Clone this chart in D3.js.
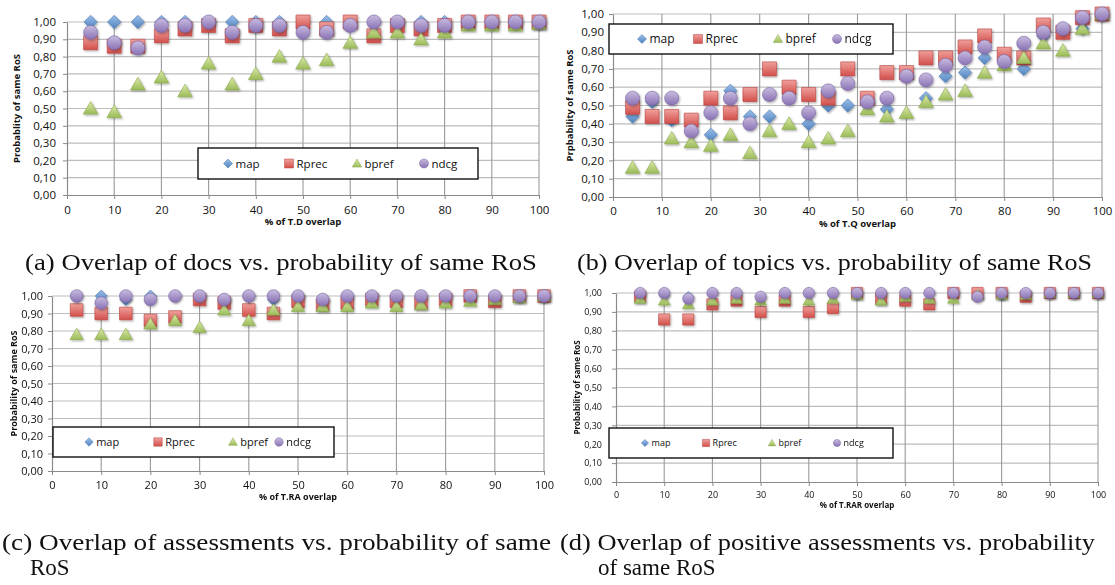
<!DOCTYPE html>
<html>
<head>
<meta charset="utf-8">
<script src="https://cdn.jsdelivr.net/npm/d3@7"></script>
<style>
  body { margin: 0; background: #fff; }
  svg text { font-family: "Open Sans", "Liberation Sans", sans-serif; }
</style>
</head>
<body>
<div id="chart"></div>
<script>
const seriesNames = ["map", "Rprec", "bpref", "ndcg"];
const xTickLabels = [0, 10, 20, 30, 40, 50, 60, 70, 80, 90, 100];
const yTickLabels = [0, 0.1, 0.2, 0.3, 0.4, 0.5, 0.6, 0.7, 0.8, 0.9, 1.0];

// (a) overlap of docs
const xA = [5, 10, 15, 20, 25, 30, 35, 40, 45, 50, 55, 60, 65, 70, 75, 80, 85, 90, 95, 100];
const mapA = [1, 1, 1, 1, 1, 1, 1, 1, 1, 1, 1, 1, 1, 1, 1, 1, 1, 1, 1, 1];
const rprecA = [0.88, 0.86, 0.86, 0.92, 0.96, 0.98, 0.92, 0.98, 0.96, 1.0, 0.96, 1.0, 0.92, 0.98, 0.96, 0.98, 1.0, 1.0, 1.0, 1.0];
const bprefA = [0.5, 0.48, 0.64, 0.68, 0.6, 0.76, 0.64, 0.7, 0.8, 0.76, 0.78, 0.88, 0.94, 0.94, 0.9, 0.94, 0.98, 0.98, 0.98, 0.99];
const ndcgA = [0.94, 0.88, 0.85, 0.98, 0.98, 1.0, 0.94, 0.98, 0.98, 0.94, 0.94, 0.98, 1.0, 1.0, 0.98, 0.98, 1.0, 1.0, 1.0, 1.0];

// (b) overlap of topics
const xB = [4, 8, 12, 16, 20, 24, 28, 32, 36, 40, 44, 48, 52, 56, 60, 64, 68, 72, 76, 80, 84, 88, 92, 96, 100];
const mapB = [0.44, 0.52, 0.42, 0.36, 0.34, 0.58, 0.44, 0.44, 0.56, 0.4, 0.5, 0.5, 0.52, 0.48, 0.66, 0.54, 0.66, 0.68, 0.76, 0.74, 0.7, 0.88, 0.9, 0.92, 1.0];
const rprecB = [0.49, 0.44, 0.44, 0.42, 0.54, 0.46, 0.56, 0.7, 0.6, 0.56, 0.54, 0.7, 0.54, 0.68, 0.68, 0.76, 0.76, 0.82, 0.88, 0.78, 0.76, 0.94, 0.9, 0.98, 1.0];
const bprefB = [0.16, 0.16, 0.32, 0.3, 0.28, 0.34, 0.24, 0.36, 0.4, 0.3, 0.32, 0.36, 0.48, 0.44, 0.46, 0.52, 0.56, 0.58, 0.68, 0.72, 0.76, 0.84, 0.8, 0.92, 1.0];
const ndcgB = [0.54, 0.54, 0.54, 0.36, 0.46, 0.54, 0.4, 0.56, 0.54, 0.46, 0.58, 0.62, 0.52, 0.54, 0.66, 0.64, 0.72, 0.76, 0.82, 0.74, 0.84, 0.9, 0.92, 0.98, 1.0];

// (c) overlap of assessments
const xC = [5, 10, 15, 20, 25, 30, 35, 40, 45, 50, 55, 60, 65, 70, 75, 80, 85, 90, 95, 100];
const mapC = [1, 1, 0.98, 1, 1, 1, 0.98, 1, 0.98, 1, 0.98, 1, 1, 1, 1, 1, 1, 1, 1, 1];
const rprecC = [0.92, 0.9, 0.9, 0.86, 0.88, 0.98, 0.96, 0.92, 0.9, 0.97, 0.95, 0.96, 0.98, 0.97, 0.96, 0.98, 1.0, 0.97, 1.0, 1.0];
const bprefC = [0.78, 0.78, 0.78, 0.84, 0.86, 0.82, 0.92, 0.86, 0.92, 0.94, 0.94, 0.94, 0.96, 0.94, 0.95, 0.96, 0.97, 0.98, 0.99, 1.0];
const ndcgC = [1, 0.96, 1, 0.98, 1, 1, 0.98, 1, 1, 1, 0.98, 1, 1, 1, 1, 1, 1, 1, 1, 1];

// (d) overlap of positive assessments
const xD = [5, 10, 15, 20, 25, 30, 35, 40, 45, 50, 55, 60, 65, 70, 75, 80, 85, 90, 95, 100];
const mapD = [0.99, 0.99, 0.98, 1, 1, 0.98, 1, 1, 1, 1, 1, 1, 1, 1, 1, 0.99, 1, 1, 1, 1];
const rprecD = [0.98, 0.86, 0.86, 0.94, 0.96, 0.9, 0.96, 0.9, 0.92, 1.0, 0.97, 0.96, 0.94, 1.0, 1.0, 1.0, 0.98, 1.0, 1.0, 1.0];
const bprefD = [0.97, 0.96, 0.94, 0.96, 0.97, 0.96, 0.97, 0.96, 0.97, 0.99, 0.96, 0.98, 0.97, 0.97, 0.99, 0.99, 0.99, 1.0, 1.0, 1.0];
const ndcgD = [1, 1, 0.97, 1, 1, 0.98, 1, 1, 1, 1, 1, 1, 1, 1, 0.98, 1, 1, 1, 1, 1];

const styles = {
  map: { shape: "diamond", top: "#9cc0ec", bottom: "#4f81bd", stroke: "#4a78b0" },
  Rprec: { shape: "square", top: "#f0a09c", bottom: "#d24f4b", stroke: "#b9433f" },
  bpref: { shape: "triangle", top: "#dcebaa", bottom: "#9bbb59", stroke: "#8aa94c" },
  ndcg: { shape: "circle", top: "#c8bce0", bottom: "#8a72b4", stroke: "#7a64a2" },
};

const panels = [
  {
    xs: xA, series: [mapA, rprecA, bprefA, ndcgA], left: 67, right: 539, top: 22, bottom: 195,
    tickFont: 11.5, yLabelX: 56, xLabelY: 214, titleFont: 9.5, xTitle: "% of T.D overlap", xTitleY: 225,
    yTitle: "Probablity of same RoS", yTitleX: 20, ms: 7,
    legend: { x0: 198, x1: 478, y0: 148, y1: 179, font: 11.5, ms: 4.5, items: [228, 289, 357, 424] },
  },
  {
    xs: xB, series: [mapB, rprecB, bprefB, ndcgB], left: 613, right: 1102, top: 14, bottom: 197,
    tickFont: 11.5, yLabelX: 604, xLabelY: 215, titleFont: 9.5, xTitle: "% of T.Q overlap", xTitleY: 227,
    yTitle: "Prpbability of same RoS", yTitleX: 573, ms: 7,
    legend: { x0: 609, x1: 893, y0: 24, y1: 54, font: 12, ms: 4.5, items: [642, 698, 778, 837] },
  },
  {
    xs: xC, series: [mapC, rprecC, bprefC, ndcgC], left: 52, right: 544, top: 296, bottom: 471,
    tickFont: 11, yLabelX: 43, xLabelY: 489, titleFont: 9, xTitle: "% of T.RA overlap", xTitleY: 500,
    yTitle: "Probability of same RoS", yTitleX: 17, ms: 6.3,
    legend: { x0: 53, x1: 334, y0: 427, y1: 457, font: 11, ms: 4.2, items: [89, 158, 233, 279] },
  },
  {
    xs: xD, series: [mapD, rprecD, bprefD, ndcgD], left: 616, right: 1098, top: 293, bottom: 482,
    tickFont: 9, yLabelX: 602, xLabelY: 498, titleFont: 8, xTitle: "% of T.RAR overlap", xTitleY: 508,
    yTitle: "Probability of same RoS", yTitleX: 580, ms: 5.6,
    legend: { x0: 609, x1: 893, y0: 428, y1: 458, font: 9, ms: 3.6, items: [645, 706, 772, 837] },
  },
];

const captions = [
  { lines: ["(a) Overlap of docs vs. probability of same RoS"], x: [25], y: [270], len: [512] },
  { lines: ["(b) Overlap of topics vs. probability of same RoS"], x: [577], y: [270], len: [515] },
  { lines: ["(c) Overlap of assessments vs. probability of same", "RoS"], x: [2, 30], y: [550, 575], len: [549, null] },
  { lines: ["(d) Overlap of positive assessments vs. probability", "of same RoS"], x: [560, 598], y: [550, 575], len: [535, null] },
];

const svg = d3.select("#chart").append("svg").attr("width", 1115).attr("height", 585);
const defs = svg.append("defs");

seriesNames.forEach((name) => {
  const s = styles[name];
  const grad = defs.append("linearGradient").attr("id", "grad-" + name)
    .attr("x1", 0).attr("y1", 0).attr("x2", 0).attr("y2", 1);
  grad.append("stop").attr("offset", "0%").attr("stop-color", s.top);
  grad.append("stop").attr("offset", "100%").attr("stop-color", s.bottom);
});
defs.append("filter").attr("id", "shadow").attr("x", "-50%").attr("y", "-50%").attr("width", "200%").attr("height", "200%")
  .append("feDropShadow").attr("dx", 1).attr("dy", 1.2).attr("stdDeviation", 0.8)
  .attr("flood-color", "#000").attr("flood-opacity", 0.35);

function marker(shape, r) {
  if (shape === "diamond") return `M0,${-r}L${r},0L0,${r}L${-r},0Z`;
  if (shape === "square") return `M${-r},${-r}H${r}V${r}H${-r}Z`;
  if (shape === "triangle") return `M0,${-r}L${r * 1.05},${r * 0.8}L${-r * 1.05},${r * 0.8}Z`;
  return d3.arc()({ innerRadius: 0, outerRadius: r, startAngle: 0, endAngle: 2 * Math.PI });
}

function drawPanel(p) {
  const g = svg.append("g");
  const x = d3.scaleLinear().domain([0, 100]).range([p.left, p.right]);
  const y = d3.scaleLinear().domain([0, 1]).range([p.bottom, p.top]);

  // gridlines
  g.append("g").selectAll("line").data(yTickLabels.slice(1)).join("line")
    .attr("x1", p.left).attr("x2", p.right).attr("y1", (d) => y(d)).attr("y2", (d) => y(d))
    .attr("stroke", "#bdbdbd").attr("stroke-width", 1.2);
  g.append("g").selectAll("line").data(xTickLabels.slice(1)).join("line")
    .attr("x1", (d) => x(d)).attr("x2", (d) => x(d)).attr("y1", p.top).attr("y2", p.bottom)
    .attr("stroke", "#9a9a9a").attr("stroke-width", 1.1);

  // axes
  const xAxis = g.append("g").attr("transform", `translate(0,${p.bottom})`)
    .call(d3.axisBottom(x).tickValues(xTickLabels).tickSize(4).tickSizeOuter(0).tickPadding(p.xLabelY - p.bottom - 4 - p.tickFont * 0.75));
  const yAxis = g.append("g").attr("transform", `translate(${p.left},0)`)
    .call(d3.axisLeft(y).tickValues(yTickLabels).tickSize(4).tickSizeOuter(0)
      .tickPadding(p.left - p.yLabelX - 4)
      .tickFormat((d) => d.toFixed(2).replace(".", ",")));
  [xAxis, yAxis].forEach((a) => {
    a.select(".domain").attr("stroke", "#8a8a8a").attr("stroke-width", 1.2);
    a.selectAll(".tick line").attr("stroke", "#8a8a8a");
    a.selectAll(".tick text").attr("fill", "#111").style("font-size", p.tickFont + "px")
      .style("font-family", "'Open Sans', sans-serif");
  });
  xAxis.selectAll(".tick text").attr("dy", 0).attr("y", p.xLabelY - p.bottom);

  // axis titles
  g.append("text").attr("x", (p.left + p.right) / 2).attr("y", p.xTitleY)
    .attr("text-anchor", "middle").style("font-size", p.titleFont + "px").style("font-weight", "bold")
    .attr("fill", "#111").text(p.xTitle);
  g.append("text").attr("transform", `translate(${p.yTitleX},${(p.top + p.bottom) / 2}) rotate(-90)`)
    .attr("text-anchor", "middle").style("font-size", p.titleFont + "px").style("font-weight", "bold")
    .attr("fill", "#111").text(p.yTitle);

  // points, series order map, Rprec, bpref, ndcg
  seriesNames.forEach((name, si) => {
    const s = styles[name];
    g.append("g").attr("filter", "url(#shadow)").selectAll("path")
      .data(p.series[si].map((v, i) => ({ x: p.xs[i], v })))
      .join("path")
      .attr("transform", (d) => `translate(${x(d.x)},${y(d.v)})`)
      .attr("d", marker(s.shape, s.shape === "diamond" ? p.ms * 0.95 : p.ms))
      .attr("fill", `url(#grad-${name})`)
      .attr("stroke", s.stroke).attr("stroke-width", 0.6);
  });

  // legend
  const L = p.legend;
  const lg = g.append("g");
  lg.append("rect").attr("x", L.x0).attr("y", L.y0).attr("width", L.x1 - L.x0).attr("height", L.y1 - L.y0)
    .attr("fill", "#fff").attr("stroke", "#111").attr("stroke-width", 1.4);
  const cy = (L.y0 + L.y1) / 2;
  seriesNames.forEach((name, si) => {
    const s = styles[name];
    lg.append("path").attr("transform", `translate(${L.items[si]},${cy})`)
      .attr("d", marker(s.shape, L.ms)).attr("fill", `url(#grad-${name})`)
      .attr("stroke", s.stroke).attr("stroke-width", 0.5);
    lg.append("text").attr("x", L.items[si] + L.ms + 3).attr("y", cy).attr("dy", "0.35em")
      .style("font-size", L.font + "px").attr("fill", "#111").text(name);
  });
}

panels.forEach(drawPanel);

captions.forEach((c) => {
  c.lines.forEach((line, i) => {
    const t = svg.append("text").attr("x", c.x[i]).attr("y", c.y[i])
      .style("font-family", "'Liberation Serif', 'DejaVu Serif', serif").style("font-size", "23px")
      .attr("fill", "#111").text(line);
    if (c.len[i]) t.attr("textLength", c.len[i]).attr("lengthAdjust", "spacingAndGlyphs");
  });
});
</script>
</body>
</html>
